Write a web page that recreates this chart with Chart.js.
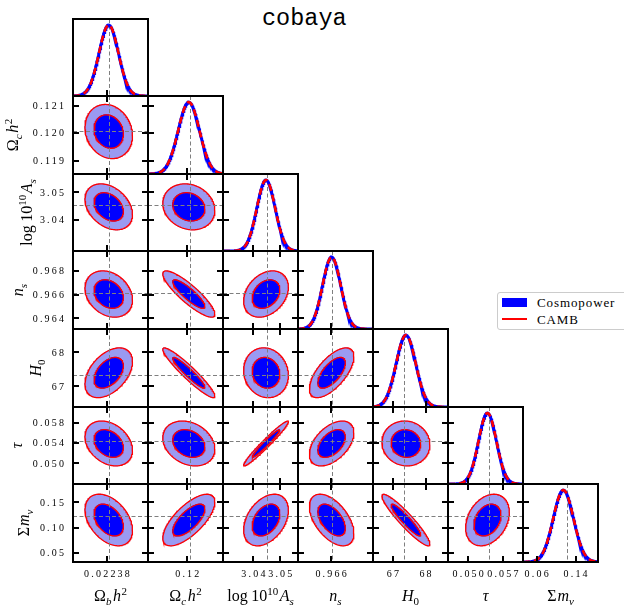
<!DOCTYPE html>
<html>
<head>
<meta charset="utf-8">
<title>cobaya</title>
<script src="https://cdn.jsdelivr.net/npm/chart.js@4.4.1/dist/chart.umd.min.js"></script>
<style>
  html, body { margin: 0; padding: 0; background: #ffffff; }
  #figure { position: relative; width: 624px; height: 606px; overflow: hidden; background: #ffffff; }
  #figure canvas { position: absolute; }
  #title { position: absolute; left: 262px; top: 7px; font: 23.5px/23.5px "Liberation Mono", monospace; color: #000; white-space: nowrap; }
  #legend-box { position: absolute; left: 497px; top: 292px; width: 132px; height: 36px; border: 1px solid #cccccc; border-radius: 3px; background: #ffffff; }
  .legend-swatch { position: absolute; }
  .legend-text { position: absolute; font: 13px/13px "Liberation Serif", serif; letter-spacing: 0.9px; color: #000; white-space: nowrap; }
</style>
</head>
<body>
<div id="figure">
  <div id="title">cobaya</div>
  <div id="legend-box"></div>
  <div class="legend-swatch" style="left:502px;top:298px;width:25px;height:9px;background:#0000ff"></div>
  <div class="legend-swatch" style="left:502px;top:318px;width:25px;height:2px;background:#ff0000"></div>
  <div class="legend-text" style="left:537px;top:296.4px">Cosmopower</div>
  <div class="legend-text" style="left:537px;top:312.7px">CAMB</div>
</div>
<script>
// ---- Posterior summaries for the sampled parameters ----
const paramNames = ['omegabh2', 'omegach2', 'logA', 'ns', 'H0', 'tau', 'mnu'];
const posteriorMeans  = [0.022388, 0.12006, 3.0447, 0.96605, 67.40, 0.0539, 0.115];
const posteriorSigmas = [0.000044, 0.00040, 0.0034, 0.00080, 0.30, 0.0018, 0.0208];
const fiducialValues  = [0.022388, 0.12009, 3.0452, 0.9661, 67.34, 0.0543, 0.1223];
const rangeMin = [0.022226, 0.118524, 3.0287, 0.96309, 66.39, 0.04594, 0.0321];
const rangeMax = [0.022566, 0.121345, 3.0566, 0.96969, 68.69, 0.06106, 0.1861];

// correlation coefficients, lower triangle (row parameter vs column parameter)
const correlations = [
  [],
  [-0.15],
  [-0.33, -0.15],
  [-0.25, -0.87, 0.30],
  [0.45, -0.94, -0.10, 0.65],
  [-0.30, -0.25, 0.97, 0.48, -0.05],
  [-0.40, 0.70, 0.38, -0.52, -0.93, 0.30]
];

// 2D credible levels drawn as filled contours
const contourLevels = [0.68, 0.95];

// axis ticks
const xTickValues = [[0.02238], [0.12], [3.04, 3.05], [0.966], [67, 68], [0.050, 0.057], [0.06, 0.14]];
const xTickLabels = [['0.02238'], ['0.12'], ['3.04', '3.05'], ['0.966'], ['67', '68'], ['0.050', '0.057'], ['0.06', '0.14']];
const yTickValues = [[], [0.119, 0.120, 0.121], [3.04, 3.05], [0.964, 0.966, 0.968], [67, 68], [0.050, 0.054, 0.058], [0.05, 0.10, 0.15]];
const yTickLabels = [[], ['0.119', '0.120', '0.121'], ['3.04', '3.05'], ['0.964', '0.966', '0.968'], ['67', '68'], ['0.050', '0.054', '0.058'], ['0.05', '0.10', '0.15']];

// axis titles as small math runs
const paramLabels = [
  [{t: 'Ω'}, {t: 'b', it: 1, sub: 1, gap: 1.5}, {t: 'h', it: 1, gap: 0.5}, {t: '2', sup: 1}],
  [{t: 'Ω'}, {t: 'c', it: 1, sub: 1, gap: 1.5}, {t: 'h', it: 1, gap: 0.5}, {t: '2', sup: 1}],
  [{t: 'log', gap: 3.5}, {t: '10'}, {t: '10', sup: 1, gap: 1.5}, {t: 'A', it: 1}, {t: 's', it: 1, sub: 1}],
  [{t: 'n', it: 1}, {t: 's', it: 1, sub: 1}],
  [{t: 'H', it: 1}, {t: '0', sub: 1}],
  [{t: 'τ', it: 1}],
  [{t: 'Σ', gap: 1}, {t: 'm', it: 1}, {t: 'ν', it: 1, sub: 1}]
];

// ---- figure layout (page pixels) ----
const FIG_W = 624, FIG_H = 606;
const colEdges = [73, 148, 223, 298, 373, 448, 523, 598];
const rowEdges = [19, 96, 174, 251, 329, 407, 484, 562];
const yLabelBaseX = [0, 18, 32, 23, 40.5, 22, 29];
const xLabelBaseY = 601;
const xTickLabelBaseY = 577;
const yTickLabelRight = 64;
const TICK_LEN = 6;
const MARGIN = 8;
const N = paramNames.length;

const COLORS = {
  outer: '#9a9af2', outerEdge: '#8c8cf5', inner: '#0000ff',
  camb: '#ff0000', marker: '#7f7f7f', frame: '#000000'
};

function ellipsePoints(ix, iy, level) {
  const k = Math.sqrt(-2 * Math.log(1 - level));
  const mx = posteriorMeans[ix], my = posteriorMeans[iy];
  const sx = posteriorSigmas[ix], sy = posteriorSigmas[iy];
  const rho = correlations[iy][ix];
  const q = Math.sqrt(1 - rho * rho);
  const pts = [];
  for (let i = 0; i <= 160; i++) {
    const t = 2 * Math.PI * i / 160;
    const u = Math.cos(t), v = Math.sin(t);
    pts.push({x: mx + k * sx * u, y: my + k * sy * (rho * u + q * v)});
  }
  return pts;
}

function marginalPoints(ip) {
  const m = posteriorMeans[ip], s = posteriorSigmas[ip];
  const pts = [];
  for (let i = 0; i <= 200; i++) {
    const x = rangeMin[ip] + (rangeMax[ip] - rangeMin[ip]) * i / 200;
    pts.push({x, y: Math.exp(-0.5 * ((x - m) / s) ** 2)});
  }
  return pts;
}

function drawMath(ctx, segs, x, y) {
  const items = segs.map(s => {
    const size = (s.sub || s.sup) ? 11 : 16;
    const font = (s.it ? 'italic ' : '') + size + 'px "Liberation Serif", serif';
    ctx.font = font;
    return Object.assign({}, s, {font, w: ctx.measureText(s.t).width});
  });
  const total = items.reduce((a, it) => a + it.w + (it.gap || 0), 0);
  let cx = x - total / 2;
  ctx.textAlign = 'left';
  ctx.textBaseline = 'alphabetic';
  for (const it of items) {
    ctx.font = it.font;
    const dy = it.sub ? 4 : (it.sup ? -6.5 : 0);
    ctx.fillText(it.t, cx, y + dy);
    cx += it.w + (it.gap || 0);
  }
}

const TICK_FONT = '10px "Liberation Serif", serif';
const TICK_SPACING = 2.2;

// offX / offY: where this panel's canvas sits on the page
function decorPlugin(r, c, offX, offY) {
  const diag = r === c;
  function markerLines(chart) {
    const {ctx, chartArea: a, scales} = chart;
    ctx.save();
    ctx.beginPath();
    ctx.rect(a.left, a.top, a.width, a.height);
    ctx.clip();
    ctx.strokeStyle = COLORS.marker;
    ctx.lineWidth = 1;
    ctx.setLineDash([4, 2.5]);
    ctx.beginPath();
    const fx = Math.round(scales.x.getPixelForValue(fiducialValues[c])) + 0.5;
    ctx.moveTo(fx, a.top);
    ctx.lineTo(fx, a.bottom);
    if (!diag) {
      const fy = Math.round(scales.y.getPixelForValue(fiducialValues[r])) + 0.5;
      ctx.moveTo(a.left, fy);
      ctx.lineTo(a.right, fy);
    }
    ctx.stroke();
    ctx.restore();
  }
  return {
    id: 'panelDecor',
    beforeDatasetsDraw(chart) { if (diag) markerLines(chart); },
    afterDatasetsDraw(chart) { if (!diag) markerLines(chart); },
    afterDraw(chart) {
      const {ctx, chartArea: a, scales} = chart;
      const yScale = diag ? scales.yp : scales.y;
      ctx.save();
      // ticks pointing into the panel
      ctx.strokeStyle = COLORS.frame;
      ctx.lineWidth = 2;
      ctx.beginPath();
      xTickValues[c].forEach(v => {
        const px = Math.round(scales.x.getPixelForValue(v));
        ctx.moveTo(px, a.bottom);
        ctx.lineTo(px, a.bottom - TICK_LEN);
        if (!diag) {
          ctx.moveTo(px, a.top);
          ctx.lineTo(px, a.top + TICK_LEN);
        }
      });
      yTickValues[r].forEach(v => {
        const py = Math.round(yScale.getPixelForValue(v));
        ctx.moveTo(a.left, py);
        ctx.lineTo(a.left + TICK_LEN, py);
        if (!diag) {
          ctx.moveTo(a.right, py);
          ctx.lineTo(a.right - TICK_LEN, py);
        }
      });
      ctx.stroke();
      // panel frame
      ctx.strokeRect(a.left, a.top, a.width, a.height);

      ctx.fillStyle = '#000';
      // y tick labels and title on the first column
      if (c === 0 && r > 0) {
        ctx.font = TICK_FONT;
        ctx.letterSpacing = TICK_SPACING + 'px';
        ctx.textAlign = 'left';
        ctx.textBaseline = 'alphabetic';
        yTickValues[r].forEach((v, i) => {
          const py = yScale.getPixelForValue(v);
          const w = ctx.measureText(yTickLabels[r][i]).width - TICK_SPACING;
          ctx.fillText(yTickLabels[r][i], yTickLabelRight - offX - w, py + 3.3);
        });
        ctx.letterSpacing = '0px';
        ctx.save();
        ctx.translate(yLabelBaseX[r] - offX, (a.top + a.bottom) / 2);
        ctx.rotate(-Math.PI / 2);
        drawMath(ctx, paramLabels[r], 0, 0);
        ctx.restore();
      }
      // x tick labels and title on the bottom row
      if (r === N - 1) {
        ctx.font = TICK_FONT;
        ctx.letterSpacing = TICK_SPACING + 'px';
        ctx.textAlign = 'left';
        ctx.textBaseline = 'alphabetic';
        xTickValues[c].forEach((v, i) => {
          const px = scales.x.getPixelForValue(v);
          const w = ctx.measureText(xTickLabels[c][i]).width - TICK_SPACING;
          ctx.fillText(xTickLabels[c][i], px - w / 2, xTickLabelBaseY - offY);
        });
        ctx.letterSpacing = '0px';
        drawMath(ctx, paramLabels[c], (a.left + a.right) / 2, xLabelBaseY - offY);
      }
      ctx.restore();
    }
  };
}

function panelDatasets(r, c) {
  if (r === c) {
    const pts = marginalPoints(c);
    return [
      {data: pts, borderColor: COLORS.camb, borderWidth: 2.6, borderDash: [7, 4], fill: false, order: 1},
      {data: pts, borderColor: COLORS.inner, borderWidth: 3, fill: false, order: 2}
    ];
  }
  const outer = ellipsePoints(c, r, contourLevels[1]);
  const inner = ellipsePoints(c, r, contourLevels[0]);
  return [
    {data: inner, borderColor: COLORS.camb, borderWidth: 1.3, fill: false, order: 1},
    {data: outer, borderColor: COLORS.camb, borderWidth: 1.3, fill: false, order: 2},
    {data: inner, borderColor: COLORS.inner, borderWidth: 1, backgroundColor: COLORS.inner, fill: 'shape', order: 3},
    {data: outer, borderColor: COLORS.outerEdge, borderWidth: 1, backgroundColor: COLORS.outer, fill: 'shape', order: 4}
  ];
}

const fig = document.getElementById('figure');
for (let r = 0; r < N; r++) {
  for (let c = 0; c <= r; c++) {
    const left = colEdges[c], right = colEdges[c + 1];
    const top = rowEdges[r], bottom = rowEdges[r + 1];
    const ml = c === 0 ? left : MARGIN;
    const mr = MARGIN, mt = MARGIN;
    const mb = r === N - 1 ? FIG_H - bottom : MARGIN;
    const cv = document.createElement('canvas');
    const w = right - left + ml + mr, h = bottom - top + mt + mb;
    const offX = left - ml, offY = top - mt;
    cv.width = w; cv.height = h;
    cv.style.left = offX + 'px';
    cv.style.top = offY + 'px';
    cv.style.width = w + 'px';
    cv.style.height = h + 'px';
    fig.appendChild(cv);

    const scales = {
      x: {type: 'linear', display: false, min: rangeMin[c], max: rangeMax[c]},
      y: r === c
        ? {type: 'linear', display: false, min: 0, max: 1.085}
        : {type: 'linear', display: false, min: rangeMin[r], max: rangeMax[r]}
    };
    if (r === c) {
      scales.yp = {type: 'linear', axis: 'y', position: 'left', display: false, min: rangeMin[r], max: rangeMax[r]};
    }

    new Chart(cv, {
      type: 'line',
      data: {datasets: panelDatasets(r, c)},
      options: {
        responsive: false,
        animation: false,
        devicePixelRatio: 1,
        layout: {padding: {left: ml, right: mr, top: mt, bottom: mb}},
        elements: {point: {radius: 0, hoverRadius: 0}, line: {tension: 0}},
        scales,
        plugins: {legend: {display: false}, tooltip: {enabled: false}, title: {display: false}},
        events: []
      },
      plugins: [decorPlugin(r, c, offX, offY)]
    });
  }
}
</script>
</body>
</html>
